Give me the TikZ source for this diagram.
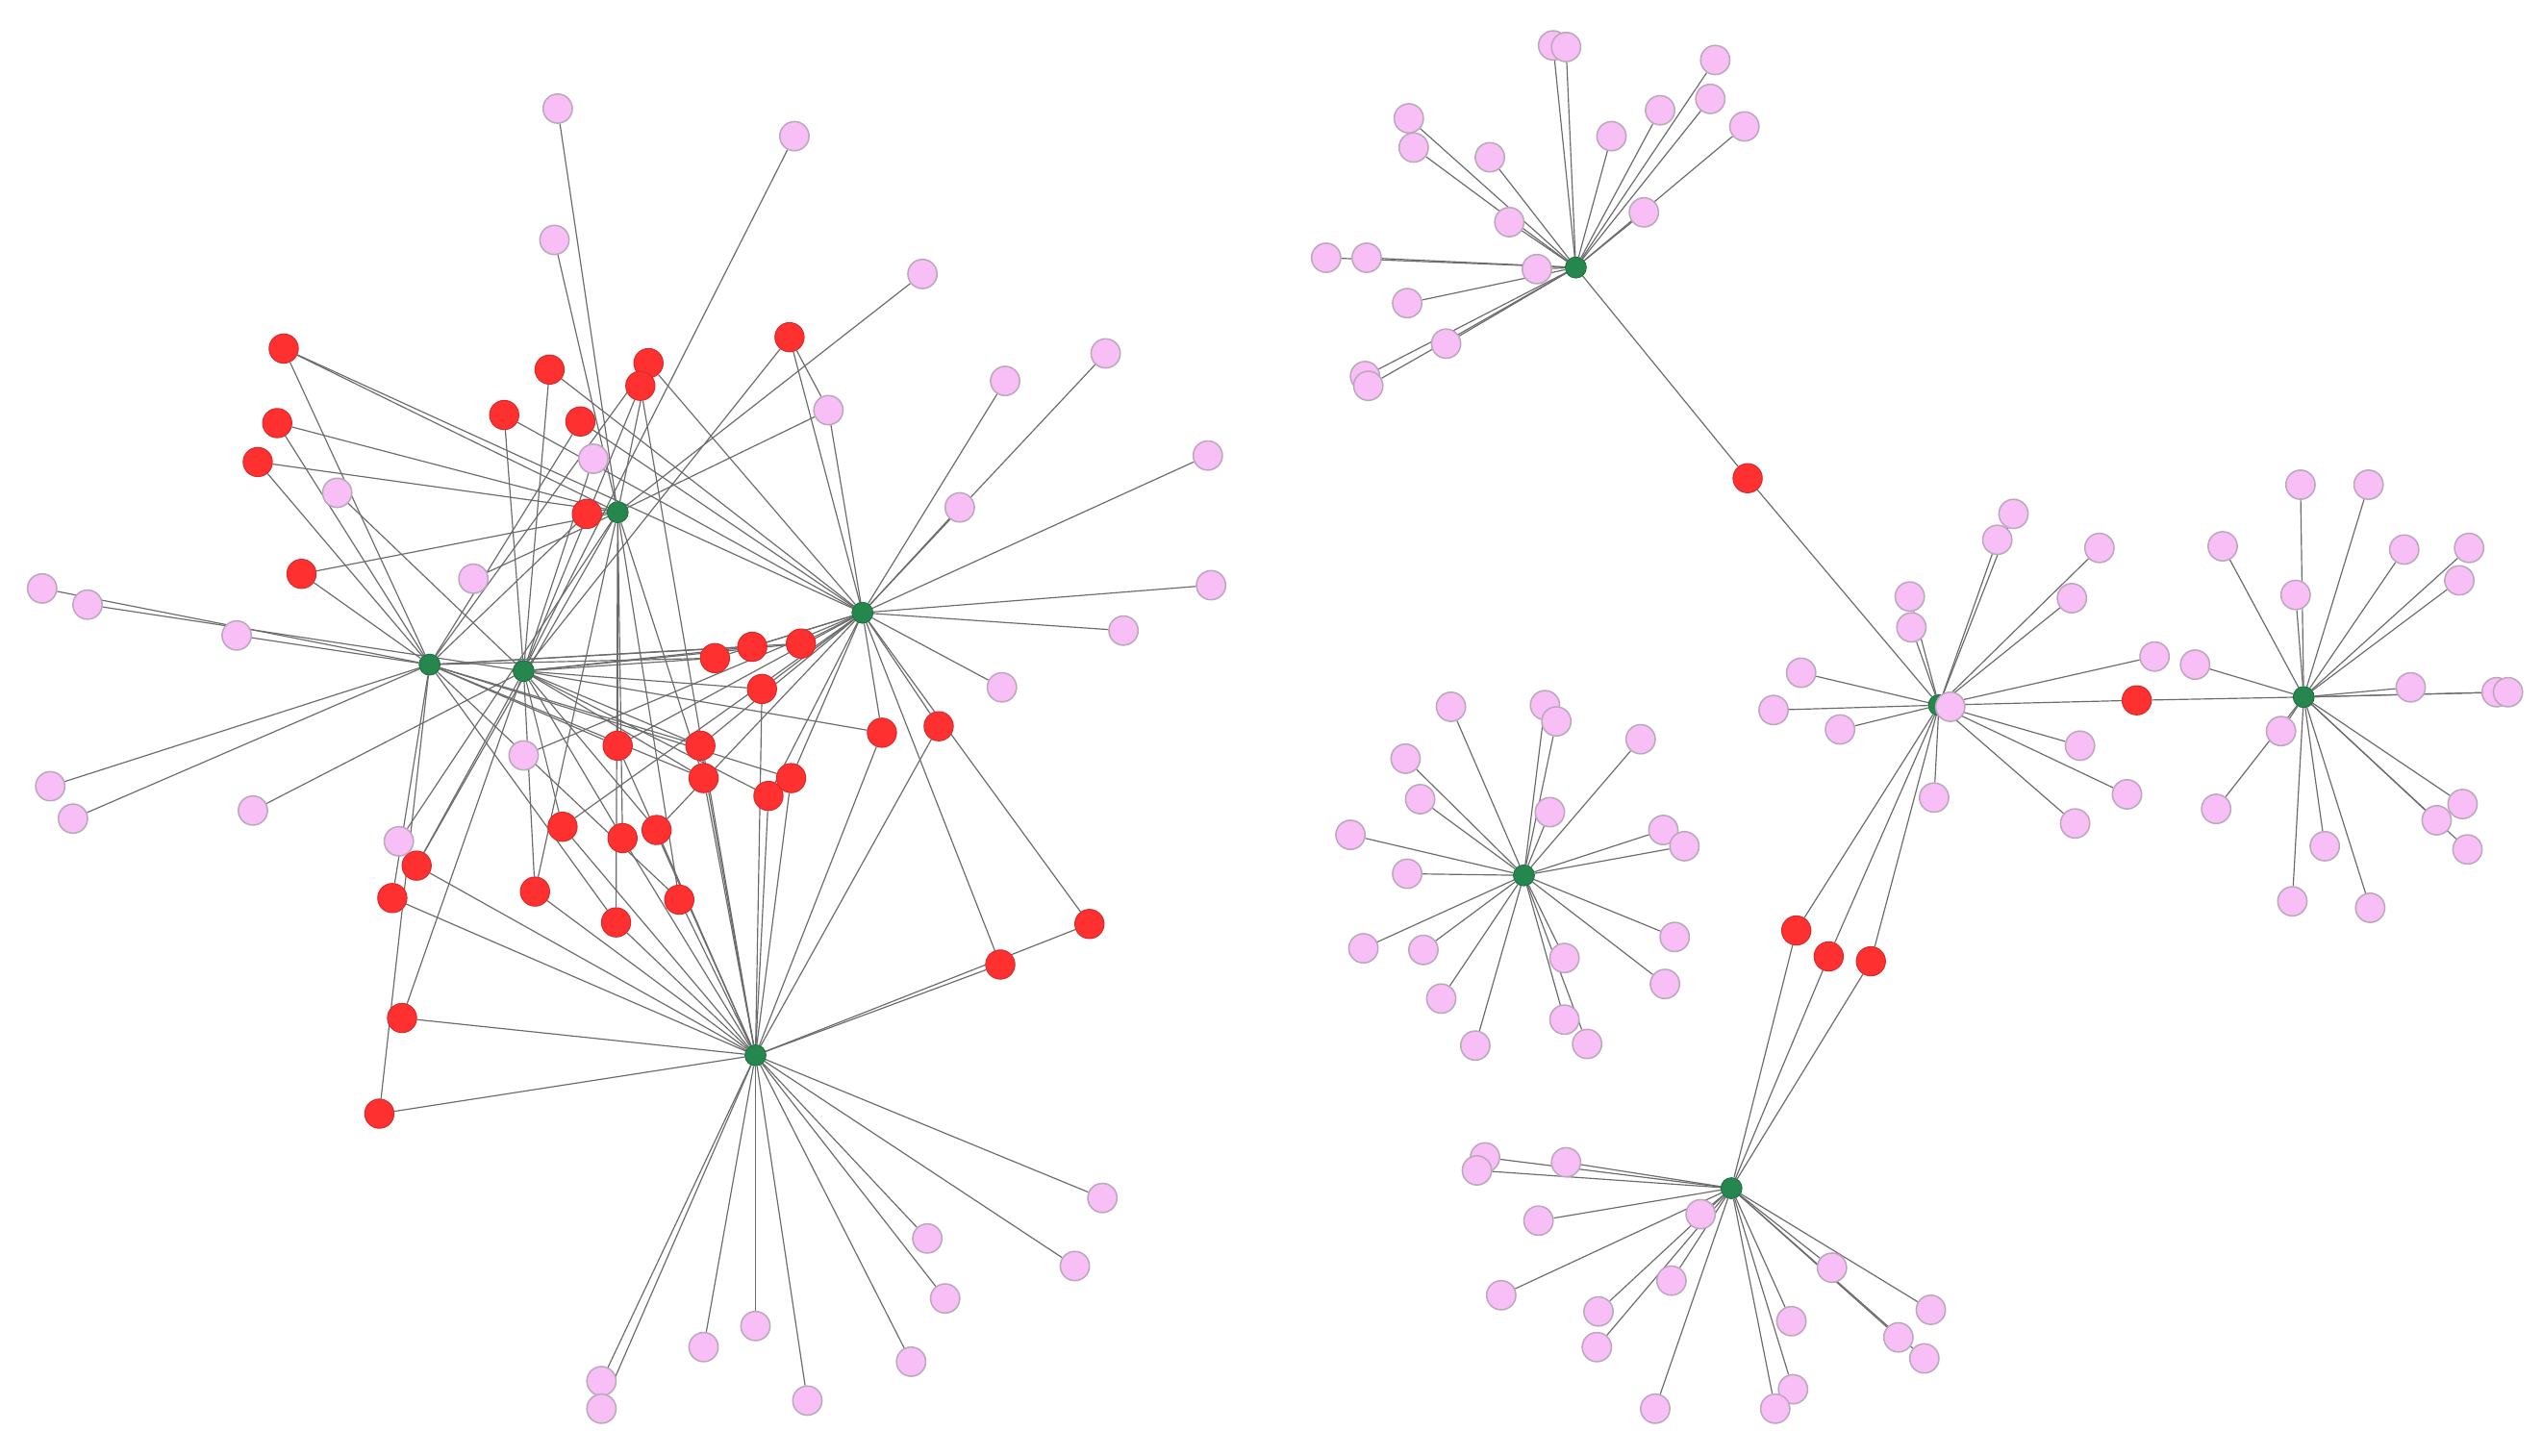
\documentclass[tikz,border=0pt]{standalone}
\usepackage{tikz}
\usepackage{xcolor}
\usetikzlibrary{positioning,backgrounds}

\definecolor{leafpink}{RGB}{248,190,246}
\definecolor{leafrim}{RGB}{188,168,188}
\definecolor{itemred}{RGB}{255,48,48}
\definecolor{hubgreen}{RGB}{38,135,78}

\tikzset{
  leaf/.style={circle,fill=leafpink,draw=leafrim,line width=0.9pt,minimum size=18pt,inner sep=0pt},
  item/.style={circle,fill=itemred,draw=itemred!85!black,line width=0.6pt,minimum size=18pt,inner sep=0pt},
  hub/.style={circle,fill=hubgreen,draw=hubgreen!80!black,line width=0.5pt,minimum size=13pt,inner sep=0pt},
  link/.style={draw=black!58,line width=0.7pt}
}

\begin{document}
\begin{tikzpicture}[x=1pt,y=-1pt]
\useasboundingbox (0,0) rectangle (1568,898);

% hubs
\begin{scope}[every node/.style={hub}]
    \node (A) at (265,410) {};
    \node (B) at (323,414) {};
    \node (C) at (381,316) {};
    \node (D) at (532,378) {};
    \node (E) at (466,651) {};
    \node (F) at (972,165) {};
    \node (G) at (1196,435) {};
    \node (H) at (1421,430) {};
    \node (I) at (940,540) {};
    \node (J) at (1068,733) {};
\end{scope}

% shared items
\begin{scope}[every node/.style={item}]
    \node (r1) at (175,215) {};  \node (r2) at (171,261) {};
    \node (r3) at (159,285) {};  \node (r4) at (186,354) {};
    \node (r5) at (339,228) {};  \node (r6) at (311,256) {};
    \node (r7) at (358,260) {};  \node (r8) at (400,224) {};
    \node (r9) at (395,238) {};  \node (r10) at (487,208) {};
    \node (r11) at (362,317) {}; \node (r12) at (441,406) {};
    \node (r13) at (464,399) {}; \node (r14) at (494,397) {};
    \node (r15) at (470,425) {}; \node (r16) at (544,452) {};
    \node (r17) at (579,448) {}; \node (r18) at (381,460) {};
    \node (r19) at (432,460) {}; \node (r20) at (434,480) {};
    \node (r21) at (474,491) {}; \node (r22) at (488,480) {};
    \node (r23) at (347,510) {}; \node (r24) at (384,517) {};
    \node (r25) at (405,512) {}; \node (r26) at (330,550) {};
    \node (r27) at (380,569) {}; \node (r28) at (419,555) {};
    \node (r29) at (257,534) {}; \node (r30) at (242,554) {};
    \node (r31) at (248,628) {}; \node (r32) at (234,687) {};
    \node (r33) at (617,595) {}; \node (r34) at (672,570) {};
    \node (s1) at (1078,295) {}; \node (s2) at (1318,432) {};
    \node (s3) at (1108,574) {}; \node (s4) at (1128,590) {};
    \node (s5) at (1154,593) {};
\end{scope}

% single items
\begin{scope}[every node/.style={leaf}]
    \node (a1) at (26,363) {};  \node (a2) at (146,392) {};
    \node (a3) at (31,485) {};  \node (a4) at (45,505) {};
    \node (b1) at (490,84) {};  \node (b2) at (366,283) {};
    \node (b3) at (208,304) {}; \node (b4) at (54,373) {};
    \node (b5) at (156,500) {};
    \node (c1) at (344,67) {};  \node (c2) at (342,148) {};
    \node (c3) at (569,169) {}; \node (c4) at (511,253) {};
    \node (c5) at (292,357) {}; \node (c6) at (246,519) {};
    \node (d1) at (682,218) {}; \node (d2) at (620,235) {};
    \node (d3) at (745,281) {}; \node (d4) at (592,313) {};
    \node (d5) at (747,361) {}; \node (d6) at (693,389) {};
    \node (d7) at (618,424) {}; \node (d8) at (323,466) {};
    \node (e1) at (680,739) {}; \node (e2) at (572,764) {};
    \node (e3) at (663,781) {}; \node (e4) at (583,801) {};
    \node (e5) at (562,840) {}; \node (e6) at (466,818) {};
    \node (e7) at (434,831) {}; \node (e8) at (498,864) {};
    \node (e9) at (371,852) {}; \node (e10) at (371,869) {};
    % top right star
    \node (f1) at (958,28) {};  \node (f2) at (966,29) {};
    \node (f3) at (1058,37) {}; \node (f4) at (1055,61) {};
    \node (f5) at (1076,78) {}; \node (f6) at (1024,68) {};
    \node (f7) at (994,84) {};  \node (f8) at (869,73) {};
    \node (f9) at (872,91) {};  \node (f10) at (919,97) {};
    \node (f11) at (1014,131) {}; \node (f12) at (931,137) {};
    \node (f13) at (948,166) {}; \node (f14) at (818,159) {};
    \node (f15) at (843,159) {}; \node (f16) at (868,187) {};
    \node (f17) at (892,212) {}; \node (f18) at (842,232) {};
    \node (f19) at (844,238) {};
    % middle star
    \node (g1) at (1242,317) {}; \node (g2) at (1232,333) {};
    \node (g3) at (1295,338) {}; \node (g4) at (1178,368) {};
    \node (g5) at (1179,387) {}; \node (g6) at (1278,369) {};
    \node (g7) at (1111,415) {}; \node (g8) at (1094,438) {};
    \node (g9) at (1135,450) {}; \node (g10) at (1329,405) {};
    \node (g11) at (1283,460) {}; \node (g12) at (1312,490) {};
    \node (g13) at (1280,508) {}; \node (g14) at (1193,492) {};
    \node (g15) at (1203,436) {};
    % right star
    \node (h1) at (1419,299) {}; \node (h2) at (1461,299) {};
    \node (h3) at (1371,337) {}; \node (h4) at (1483,339) {};
    \node (h5) at (1523,338) {}; \node (h6) at (1517,358) {};
    \node (h7) at (1416,367) {}; \node (h8) at (1354,410) {};
    \node (h9) at (1487,424) {}; \node (h10) at (1540,427) {};
    \node (h11) at (1547,427) {}; \node (h12) at (1407,451) {};
    \node (h13) at (1367,499) {}; \node (h14) at (1519,496) {};
    \node (h15) at (1503,506) {}; \node (h16) at (1522,524) {};
    \node (h17) at (1434,522) {}; \node (h18) at (1414,556) {};
    \node (h19) at (1462,560) {};
    % lower left star
    \node (i1) at (895,436) {};  \node (i2) at (953,435) {};
    \node (i3) at (960,445) {};  \node (i4) at (1012,456) {};
    \node (i5) at (867,468) {};  \node (i6) at (876,493) {};
    \node (i7) at (956,501) {};  \node (i8) at (833,515) {};
    \node (i9) at (868,539) {};  \node (i10) at (1026,512) {};
    \node (i11) at (1039,522) {}; \node (i12) at (1033,578) {};
    \node (i13) at (841,585) {}; \node (i14) at (878,586) {};
    \node (i15) at (965,591) {}; \node (i16) at (1027,607) {};
    \node (i17) at (889,616) {}; \node (i18) at (965,629) {};
    \node (i19) at (979,644) {}; \node (i20) at (910,645) {};
    % bottom star
    \node (j1) at (916,714) {};  \node (j2) at (911,722) {};
    \node (j3) at (966,717) {};  \node (j4) at (949,753) {};
    \node (j5) at (1049,749) {}; \node (j6) at (926,799) {};
    \node (j7) at (1031,790) {}; \node (j8) at (1130,782) {};
    \node (j9) at (986,809) {};  \node (j10) at (985,831) {};
    \node (j11) at (1105,815) {}; \node (j12) at (1191,808) {};
    \node (j13) at (1171,825) {}; \node (j14) at (1187,838) {};
    \node (j15) at (1106,857) {}; \node (j16) at (1095,869) {};
    \node (j17) at (1021,869) {};
\end{scope}

\begin{scope}[on background layer, every edge/.style={link}]
    \path (A) edge (a1) edge (a2) edge (a3) edge (a4)
              edge (r1) edge (r2) edge (r3) edge (r4) edge (r7) edge (r8)
              edge (r11) edge (r12) edge (r13) edge (r14) edge (r18)
              edge (r19) edge (r20) edge (r22) edge (r27) edge (r28)
              edge (r30) edge (r32);
    \path (B) edge (b1) edge (b2) edge (b3) edge (b4) edge (b5)
              edge (r5) edge (r6) edge (r9) edge (r10) edge (r12) edge (r13)
              edge (r14) edge (r15) edge (r16) edge (r19) edge (r20)
              edge (r21) edge (r23) edge (r24) edge (r25) edge (r26)
              edge (r29) edge (r31);
    \path (C) edge (c1) edge (c2) edge (c3) edge (c4) edge (c5) edge (c6)
              edge (r1) edge (r2) edge (r3) edge (r4) edge (r8) edge (r11)
              edge (r18) edge (r20) edge (r24) edge (r26) edge (r27)
              edge (r28) edge (r29);
    \path (D) edge (d1) edge (d2) edge (d3) edge (d4) edge (d5) edge (d6)
              edge (d7) edge (d8) edge (c4)
              edge (r1) edge (r5) edge (r6) edge (r7) edge (r8) edge (r10)
              edge (r12) edge (r13) edge (r14) edge (r15) edge (r16)
              edge (r17) edge (r18) edge (r19) edge (r21) edge (r22)
              edge (r23) edge (r25) edge (r33) edge (r34);
    \path (E) edge (e1) edge (e2) edge (e3) edge (e4) edge (e5) edge (e6)
              edge (e7) edge (e8) edge (e9) edge (e10)
              edge (r9) edge (r15) edge (r16) edge (r17) edge (r18)
              edge (r19) edge (r20) edge (r21) edge (r22) edge (r23)
              edge (r24) edge (r25) edge (r26) edge (r27) edge (r28)
              edge (r29) edge (r30) edge (r31) edge (r32) edge (r33)
              edge (r34);
    \path (r10) edge (c4);
    \path (F) edge (f1) edge (f2) edge (f3) edge (f4) edge (f5) edge (f6)
              edge (f7) edge (f8) edge (f9) edge (f10) edge (f11) edge (f12)
              edge (f13) edge (f14) edge (f15) edge (f16) edge (f17)
              edge (f18) edge (f19) edge (s1);
    \path (G) edge (g1) edge (g2) edge (g3) edge (g4) edge (g5) edge (g6)
              edge (g7) edge (g8) edge (g9) edge (g10) edge (g11) edge (g12)
              edge (g13) edge (g14) edge (g15)
              edge (s1) edge (s2) edge (s3) edge (s4) edge (s5);
    \path (H) edge (h1) edge (h2) edge (h3) edge (h4) edge (h5) edge (h6)
              edge (h7) edge (h8) edge (h9) edge (h10) edge (h11) edge (h12)
              edge (h13) edge (h14) edge (h15) edge (h16) edge (h17)
              edge (h18) edge (h19) edge (s2);
    \path (I) edge (i1) edge (i2) edge (i3) edge (i4) edge (i5) edge (i6)
              edge (i7) edge (i8) edge (i9) edge (i10) edge (i11) edge (i12)
              edge (i13) edge (i14) edge (i15) edge (i16) edge (i17)
              edge (i18) edge (i19) edge (i20);
    \path (J) edge (j1) edge (j2) edge (j3) edge (j4) edge (j5) edge (j6)
              edge (j7) edge (j8) edge (j9) edge (j10) edge (j11) edge (j12)
              edge (j13) edge (j14) edge (j15) edge (j16) edge (j17)
              edge (s3) edge (s4) edge (s5);
\end{scope}
\end{tikzpicture}
\end{document}
